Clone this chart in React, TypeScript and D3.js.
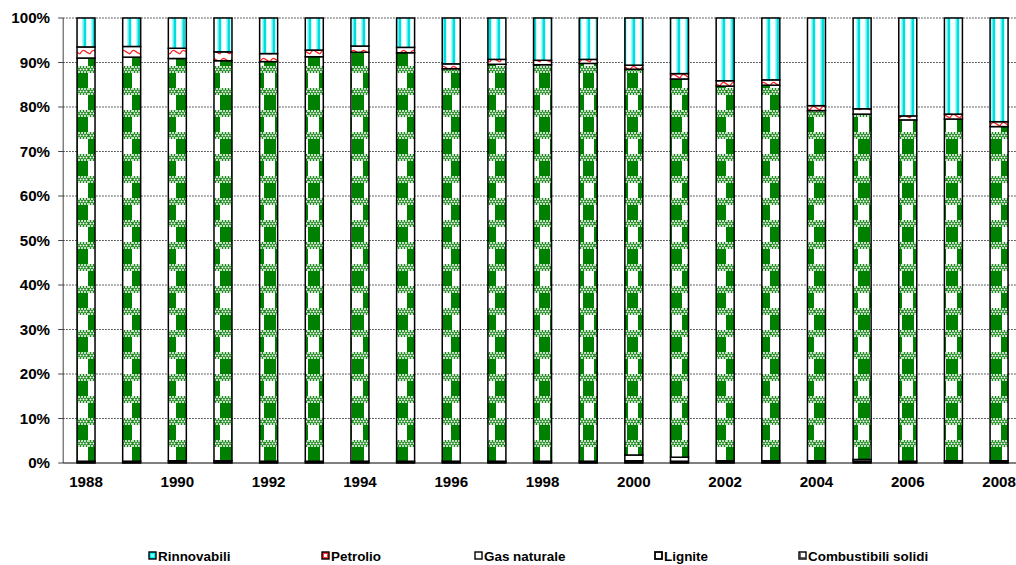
import React from "react";
import * as d3 from "d3";

const years = [1988,1989,1990,1991,1992,1993,1994,1995,1996,1997,1998,1999,2000,2001,2002,2003,2004,2005,2006,2007,2008];
const combustibiliSolidi = [0.4,0.4,0.5,0.5,0.4,0.4,0.4,0.4,0.4,0.4,0.4,0.4,0.5,0.4,0.5,0.5,0.5,0.4,0.4,0.5,0.5];
const lignite = [0,0,0,0,0,0,0,0,0,0,0,0,1.3,0.9,0,0,0,0.4,0,0,0];
const gasNaturale = [90.6,90.8,90.4,89.9,89.8,90.9,91.9,91.8,88.2,89.2,89.1,89.4,86.7,85.0,84.2,84.4,78.7,77.6,76.7,76.8,75.1];
const petrolio = [2.5,2.4,2.3,2.0,1.8,1.5,1.4,1.2,1.1,1.1,1.0,0.9,0.9,1.2,1.2,1.2,1.1,1.2,0.9,1.1,1.1];
const rinnovabili = [6.5,6.4,6.8,7.6,8.0,7.2,6.3,6.6,10.3,9.3,9.5,9.3,10.6,12.5,14.1,13.9,19.7,20.4,22.0,21.6,23.3];
const yTicks = [0,10,20,30,40,50,60,70,80,90,100];
const legendLabels = ["Rinnovabili","Petrolio","Gas naturale","Lignite","Combustibili solidi"];

const W = 1016, H = 565;
const left = 63.2, right = 1021.9, top = 18, bottom = 463;
const keys = ["comb","lig","gas","pet","rinn"];
const fills: Record<string,string> = {
  comb: "url(#pComb)", lig: "url(#pLig)", gas: "url(#pGas)", pet: "url(#pPet)", rinn: "url(#pRinn)",
};
const legendKeys = ["rinn","pet","gas","lig","comb"];
const legendX = [149, 322, 475, 655, 799];

function LegendMarker({ k, x0, y0 }: { k: string; x0: number; y0: number }) {
  const s = 7;
  if (k === "rinn")
    return (
      <g>
        <rect x={x0} y={y0} width={s} height={s} fill="#0ee" stroke="#000" strokeWidth={1.4} />
        <rect x={x0 + 2} y={y0 + 2} width={3} height={3} fill="#7ff" />
      </g>
    );
  if (k === "pet")
    return (
      <g>
        <rect x={x0} y={y0} width={s} height={s} fill="#f33" stroke="#000" strokeWidth={1.4} />
        <rect x={x0 + 2} y={y0 + 2} width={3} height={3} fill="#fff" />
      </g>
    );
  if (k === "lig")
    return <rect x={x0} y={y0} width={s} height={s} fill="#fff" stroke="#000" strokeWidth={1.8} />;
  if (k === "comb")
    return (
      <g>
        <rect x={x0} y={y0} width={s} height={s} fill="#fff" stroke="#000" strokeWidth={1.4} />
        <path d={`M${x0 + 1},${y0 + 1}V${y0 + s - 1}H${x0 + s - 1}`} fill="none" stroke="#333" strokeWidth={1.5} />
      </g>
    );
  return <rect x={x0} y={y0} width={s} height={s} fill="#fff" stroke="#000" strokeWidth={1.4} />;
}

function Lacy({ y0 }: { y0: number }) {
  return (
    <g>
      <rect x={0} y={y0} width={22} height={7} fill="#1a8a1a" />
      {d3.range(0, 22, 3).map((cx) =>
        [0, 2.5, 5].map((cy, j) => (
          <circle key={"c" + cx + "-" + cy} cx={cx + 1 + (j % 2) * 1.5} cy={y0 + cy + 1} r={1} fill="#fff" />
        ))
      )}
    </g>
  );
}

export default function App() {
  const rows = years.map((y, i) => ({
    year: y, comb: combustibiliSolidi[i], lig: lignite[i], gas: gasNaturale[i], pet: petrolio[i], rinn: rinnovabili[i],
  }));
  const x = d3.scaleBand<number>().domain(years).range([left, right]).paddingInner(0.606).paddingOuter(0.303);
  const y = d3.scaleLinear().domain([0, 100]).range([bottom, top]);
  const stack = d3.stack<any>().keys(keys)(rows);
  const font = "'Liberation Sans', Arial, sans-serif";

  return (
    <svg width={W} height={H} style={{ position: "absolute", left: 0, top: 0, background: "#fff" }}>
      <defs>
        <pattern id="pGas" patternUnits="userSpaceOnUse" width={22} height={44}>
          <rect width={22} height={44} fill="#fff" />
          <rect x={0} y={7} width={12} height={15} fill="#008000" />
          <rect x={11} y={29} width={11} height={15} fill="#008000" />
          <Lacy y0={0} />
          <Lacy y0={22} />
        </pattern>
        <pattern id="pRinn" patternUnits="userSpaceOnUse" width={9} height={10} x={1}>
          <rect width={9} height={10} fill="#fff" />
          <rect x={0} y={0} width={1.5} height={10} fill="#9ff" />
          <rect x={1.5} y={0} width={2.5} height={10} fill="#0dd" />
          <rect x={4} y={0} width={1} height={10} fill="#bff" />
        </pattern>
        <pattern id="pPet" patternUnits="userSpaceOnUse" width={10} height={8}>
          <rect width={10} height={8} fill="#fff" />
          <path d="M0,6 Q2.5,1 5,3 T10,6" fill="none" stroke="#f22" strokeWidth={1.3} />
        </pattern>
        <pattern id="pLig" patternUnits="userSpaceOnUse" width={6} height={6}>
          <rect width={6} height={6} fill="#fff" />
        </pattern>
        <pattern id="pComb" patternUnits="userSpaceOnUse" width={4} height={4}>
          <rect width={4} height={4} fill="#111" />
        </pattern>
      </defs>

      {yTicks.filter((t) => t > 0).map((t) => (
        <line key={"g" + t} x1={left} x2={W} y1={y(t)} y2={y(t)} stroke="#333" strokeWidth={1} strokeDasharray="1.5,1.5" />
      ))}

      {stack.map((layer) => (
        <g key={layer.key}>
          {layer.map((d: any, i: number) =>
            d[1] - d[0] > 0 ? (
              <rect
                key={i}
                x={x(years[i])}
                width={x.bandwidth()}
                y={y(d[1])}
                height={y(d[0]) - y(d[1])}
                fill={fills[layer.key]}
                stroke="#000"
                strokeWidth={1.5}
              />
            ) : null
          )}
        </g>
      ))}

      <line x1={left} x2={left} y1={top} y2={bottom} stroke="#444" strokeWidth={1} />
      <line x1={left} x2={W} y1={bottom} y2={bottom} stroke="#000" strokeWidth={1} />
      {yTicks.map((t) => (
        <g key={"t" + t}>
          <line x1={left - 5} x2={left} y1={y(t)} y2={y(t)} stroke="#444" />
          <g transform={`translate(50,${y(t) + 5}) scale(1.08,1)`}>
            <text textAnchor="end" fontFamily={font} fontWeight="bold" fontSize={14} fill="#000">{t + "%"}</text>
          </g>
        </g>
      ))}
      {years.filter((yr) => yr % 2 === 0).map((yr) => (
        <g key={"x" + yr} transform={`translate(${(x(yr) as number) + x.bandwidth() / 2},${487}) scale(1.08,1)`}>
          <text textAnchor="middle" fontFamily={font} fontWeight="bold" fontSize={14} fill="#000">{yr}</text>
        </g>
      ))}

      {legendKeys.map((k, i) => (
        <g key={"l" + k}>
          <LegendMarker k={k} x0={legendX[i]} y0={552} />
          <g transform={`translate(${legendX[i] + 9},${561}) scale(1.12,1)`}>
            <text fontFamily={font} fontWeight="bold" fontSize={12} fill="#000">{legendLabels[i]}</text>
          </g>
        </g>
      ))}
    </svg>
  );
}
